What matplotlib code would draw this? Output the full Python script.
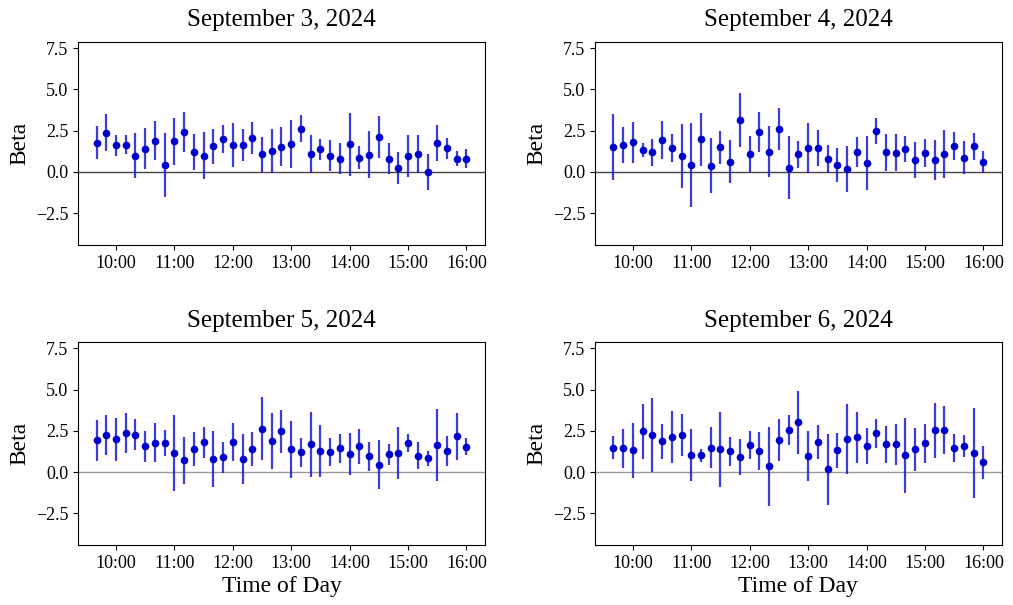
import matplotlib
matplotlib.use("Agg")
import matplotlib.pyplot as plt
import numpy as np

plt.rcParams['font.family'] = ['Liberation Serif', 'DejaVu Serif']

# times: 9:40 to 16:00 every 10 minutes (hours as decimals)
times = [9 + 40/60 + i*10/60 for i in range(39)]

titles = ["September 3, 2024", "September 4, 2024", "September 5, 2024", "September 6, 2024"]

beta_sep3 = [1.76, 2.36, 1.62, 1.64, 0.99, 1.41, 1.90, 0.40, 1.84, 2.44,
             1.21, 0.99, 1.54, 2.00, 1.62, 1.64, 2.06, 1.07, 1.27, 1.52,
             1.70, 2.61, 1.09, 1.37, 0.99, 0.81, 1.66, 0.85, 1.03, 2.10,
             0.79, 0.22, 0.95, 1.09, 0.00, 1.74, 1.43, 0.81, 0.79]
err_sep3 = [1.01, 1.12, 0.63, 0.57, 1.34, 1.24, 1.19, 1.95, 1.43, 1.21,
            1.10, 1.45, 1.04, 0.83, 1.32, 0.96, 0.99, 1.07, 1.35, 1.18,
            1.45, 0.82, 1.13, 0.64, 0.93, 0.91, 1.90, 0.69, 1.42, 1.27,
            0.93, 0.98, 1.29, 1.14, 1.09, 1.07, 0.64, 0.48, 0.57]

beta_sep4 = [1.49, 1.64, 1.78, 1.31, 1.19, 1.94, 1.45, 0.95, 0.42, 1.98,
             0.38, 1.49, 0.61, 3.15, 1.09, 2.42, 1.21, 2.61, 0.26, 1.07,
             1.45, 1.43, 0.79, 0.40, 0.18, 1.19, 0.55, 2.48, 1.19, 1.15,
             1.39, 0.73, 1.13, 0.71, 1.09, 1.56, 0.87, 1.54, 0.59]
err_sep4 = [2.01, 1.08, 1.26, 0.43, 0.81, 1.15, 0.84, 1.94, 2.55, 1.61,
            1.65, 1.01, 1.31, 1.63, 1.09, 1.23, 1.54, 1.28, 1.93, 0.83,
            1.54, 1.09, 0.83, 1.02, 1.41, 0.92, 1.64, 0.81, 1.11, 1.12,
            0.79, 1.10, 0.84, 1.20, 1.46, 0.87, 1.02, 0.83, 0.66]

beta_sep5 = [1.92, 2.24, 2.00, 2.36, 2.26, 1.56, 1.78, 1.76, 1.15, 0.71,
             1.37, 1.80, 0.77, 0.89, 1.84, 0.77, 1.39, 2.63, 1.88, 2.48,
             1.39, 1.19, 1.68, 1.29, 1.23, 1.43, 1.09, 1.56, 0.95, 0.44,
             1.09, 1.15, 1.74, 0.99, 0.83, 1.64, 1.29, 2.16, 1.54]
err_sep5 = [1.24, 1.22, 1.30, 1.22, 0.93, 0.95, 1.19, 0.77, 2.31, 1.42,
            1.03, 0.92, 1.70, 0.93, 1.15, 1.51, 1.05, 1.92, 1.71, 1.31,
            1.72, 0.90, 1.99, 1.58, 0.86, 0.88, 1.26, 1.04, 0.88, 1.48,
            0.63, 1.57, 0.54, 0.82, 0.43, 2.17, 0.90, 1.40, 0.50]

beta_sep6 = [1.49, 1.43, 1.31, 2.48, 2.22, 1.86, 2.14, 2.26, 1.03, 1.01,
             1.49, 1.37, 1.25, 0.91, 1.64, 1.29, 0.34, 1.94, 2.55, 3.01,
             0.97, 1.82, 0.16, 1.33, 2.00, 2.10, 1.60, 2.34, 1.68, 1.70,
             1.01, 1.37, 1.74, 2.53, 2.57, 1.47, 1.60, 1.17, 0.59]
err_sep6 = [0.69, 1.18, 1.65, 1.67, 2.24, 1.06, 1.57, 1.28, 1.58, 0.40,
            1.24, 2.28, 0.86, 1.09, 0.86, 1.14, 2.40, 1.28, 0.90, 1.89,
            1.49, 1.02, 2.14, 1.06, 2.11, 1.56, 1.10, 0.90, 1.12, 1.24,
            2.29, 1.32, 1.16, 1.65, 1.46, 0.84, 0.66, 2.71, 0.98]

betas = [beta_sep3, beta_sep4, beta_sep5, beta_sep6]
errs = [err_sep3, err_sep4, err_sep5, err_sep6]

xtick_vals = [10, 11, 12, 13, 14, 15, 16]
xtick_labels = ["10:00", "11:00", "12:00", "13:00", "14:00", "15:00", "16:00"]
ytick_vals = [-2.5, 0.0, 2.5, 5.0, 7.5]

fig, axes = plt.subplots(2, 2, figsize=(10.13, 6.05), dpi=100)
fig.subplots_adjust(left=0.077, right=0.989, top=0.931, bottom=0.099,
                    wspace=0.27, hspace=0.478)

zero_colors = ['#444444', '#444444', '#999999', '#999999']

for i, ax in enumerate(axes.flat):
    ax.axhline(0, color=zero_colors[i], linewidth=1.0, zorder=1)
    ax.errorbar(times, betas[i], yerr=errs[i], fmt='o', color='mediumblue',
                ecolor=(0.1, 0.1, 0.85, 0.85), elinewidth=1.6, markersize=4.5,
                capsize=0, zorder=3)
    ax.set_title(titles[i], fontsize=18, pad=11)
    ax.set_ylabel("Beta", fontsize=17)
    ax.set_xticks(xtick_vals)
    ax.set_xticklabels(xtick_labels)
    ax.set_yticks(ytick_vals)
    ax.set_yticklabels([f"{v:.1f}".replace('-', '\u2212') for v in ytick_vals])
    ax.tick_params(labelsize=13)
    ax.set_ylim(-4.42, 7.88)
    ax.margins(x=0.05)
    if i >= 2:
        ax.set_xlabel("Time of Day", fontsize=17, labelpad=3)

fig.savefig("out.png", dpi=100)
